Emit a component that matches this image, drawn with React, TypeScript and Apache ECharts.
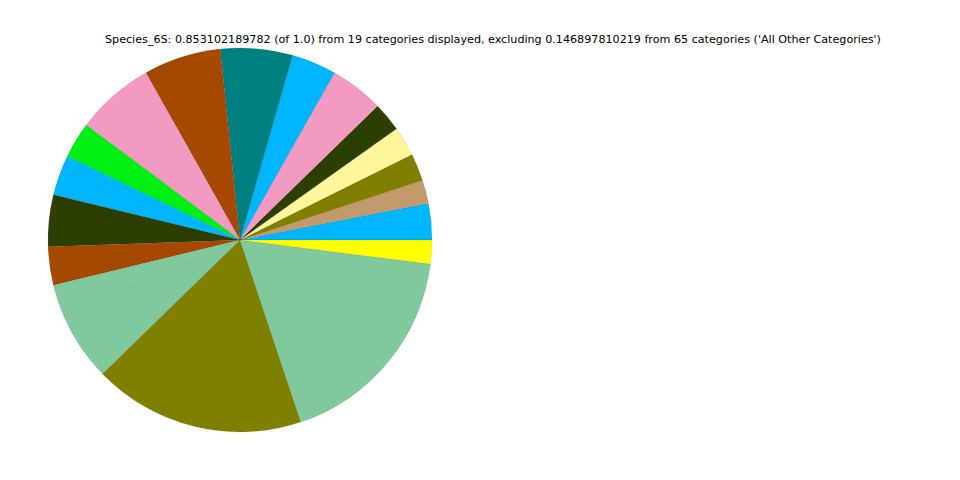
import React, { useEffect, useRef } from "react";
import * as echarts from "echarts";

const titleText =
  "Species_6S: 0.853102189782 (of 1.0) from 19 categories displayed, excluding 0.146897810219 from 65 categories ('All Other Categories')";

const categories = [
  "c01", "c02", "c03", "c04", "c05", "c06", "c07", "c08", "c09", "c10",
  "c11", "c12", "c13", "c14", "c15", "c16", "c17", "c18", "c19",
];

const values = [
  0.0261, 0.0168, 0.0197, 0.0213, 0.0209, 0.0386, 0.0322, 0.0517, 0.0555, 0.0566,
  0.0258, 0.0291, 0.037, 0.0275, 0.0232, 0.0495, 0.1521, 0.1524, 0.0171,
];

const colors = [
  "#00B7FF", "#C29A6C", "#808000", "#FFF59B", "#2D3F00", "#F39AC2", "#00B7FF", "#008080", "#A64900", "#F39AC2",
  "#00F014", "#00B7FF", "#2D3F00", "#A64900", "#80C99C", "#80C99C", "#808000", "#80C99C", "#FFFF00",
];

export default function App() {
  const ref = useRef<HTMLDivElement>(null);
  useEffect(() => {
    if (!ref.current) return;
    const chart = echarts.init(ref.current, null, { renderer: "svg" });
    chart.setOption({
      animation: false,
      backgroundColor: "#ffffff",
      title: {
        text: titleText,
        left: 105,
        top: 34,
        padding: 0,
        textStyle: {
          fontFamily: "DejaVu Sans",
          fontSize: 11.15,
          fontWeight: "normal",
          color: "#000000",
        },
      },
      series: [
        {
          type: "pie",
          center: [240, 240],
          radius: 192,
          startAngle: 0,
          clockwise: false,
          label: { show: false },
          labelLine: { show: false },
          emphasis: { disabled: true },
          itemStyle: { borderWidth: 0.4, borderColor: "rgba(0,0,0,0.2)" },
          data: categories.map((c, i) => ({
            name: c,
            value: values[i],
            itemStyle: { color: colors[i] },
          })),
        },
      ],
    });
    return () => chart.dispose();
  }, []);
  return (
    <div
      ref={ref}
      style={{ position: "fixed", left: 0, top: 0, width: 960, height: 480 }}
    />
  );
}
